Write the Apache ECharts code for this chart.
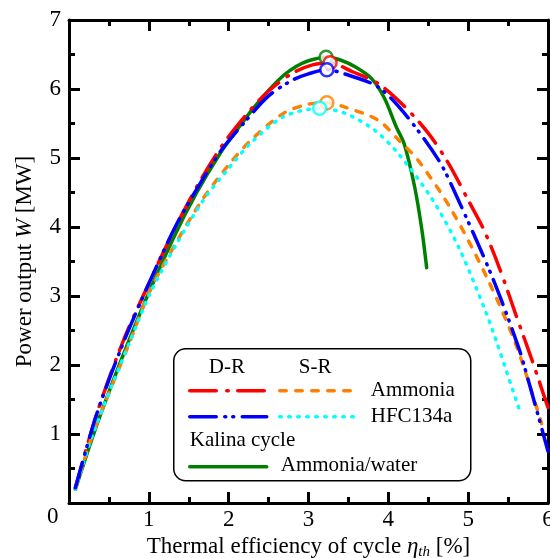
<!DOCTYPE html>
<html lang="en">
<head>
  <meta charset="UTF-8">
  <title>Power output vs thermal efficiency</title>
  <script src="https://cdn.jsdelivr.net/npm/echarts@6/dist/echarts.min.js"></script>
  <style>
    html, body { margin: 0; padding: 0; background: #fff; }
    #main { width: 550px; height: 558px; }
  </style>
</head>
<body>
  <div id="main"></div>
  <script>
    // thermal efficiency [%] / power output [MW]
    var drAmmoniaX = [0.08, 0.35, 0.68, 1.0, 1.3, 1.6, 1.9, 2.2, 2.5, 2.8, 3.05, 3.27, 3.55, 3.87, 4.2, 4.5, 4.75, 5.0, 5.2, 5.4, 5.6, 5.8, 6.0];
    var drAmmoniaY = [0.22, 1.3, 2.35, 3.18, 3.92, 4.58, 5.15, 5.6, 5.97, 6.23, 6.35, 6.38, 6.25, 6.08, 5.75, 5.36, 4.93, 4.39, 3.95, 3.38, 2.72, 2.07, 1.38];

    var drHfcX = [0.08, 0.35, 0.68, 1.0, 1.33, 1.6, 1.9, 2.2, 2.5, 2.8, 3.0, 3.23, 3.45, 3.87, 4.2, 4.63, 4.83, 5.3, 5.63, 5.76, 6.0];
    var drHfcY = [0.22, 1.3, 2.32, 3.18, 4.0, 4.55, 5.1, 5.52, 5.9, 6.13, 6.22, 6.28, 6.22, 6.03, 5.65, 4.97, 4.51, 3.28, 2.26, 1.75, 0.75];

    var srAmmoniaX = [0.08, 0.3, 0.77, 1.02, 1.36, 1.69, 2.0, 2.28, 2.69, 3.0, 3.23, 3.45, 3.87, 4.13, 4.37, 4.79, 5.25, 5.61, 5.92];
    var srAmmoniaY = [0.2, 1.0, 2.36, 3.09, 3.81, 4.43, 4.9, 5.26, 5.65, 5.78, 5.8, 5.74, 5.55, 5.26, 4.97, 4.25, 3.23, 2.26, 1.15];

    var srHfcX = [0.08, 0.3, 0.77, 1.02, 1.36, 1.69, 2.0, 2.28, 2.69, 3.14, 3.45, 3.82, 4.12, 4.54, 4.88, 5.21, 5.36, 5.65];
    var srHfcY = [0.2, 1.0, 2.36, 3.05, 3.78, 4.4, 4.85, 5.22, 5.6, 5.72, 5.65, 5.41, 5.07, 4.42, 3.71, 2.8, 2.32, 1.32];

    var kalinaX = [0.08, 0.4, 0.89, 1.3, 1.6, 1.9, 2.1, 2.28, 2.5, 2.69, 2.85, 3.0, 3.22, 3.4, 3.6, 3.79, 3.95, 4.1, 4.2, 4.33, 4.42, 4.48];
    var kalinaY = [0.2, 1.3, 2.75, 3.82, 4.5, 5.08, 5.4, 5.68, 5.98, 6.2, 6.33, 6.41, 6.46, 6.42, 6.31, 6.15, 5.87, 5.45, 5.2, 4.58, 3.96, 3.41];

    // maximum points (open circles): kalina, D-R ammonia, D-R HFC, S-R ammonia, S-R HFC
    var peakX = [3.22, 3.27, 3.23, 3.23, 3.14];
    var peakY = [6.46, 6.38, 6.28, 5.80, 5.72];

    var xTicks = [0, 1, 2, 3, 4, 5, 6];
    var yTicks = [0, 1, 2, 3, 4, 5, 6, 7];

    var RED = '#ff0000', BLUE = '#0000ff', GREEN = '#008000', ORANGE = '#ff8000', CYAN = '#00ffff';
    var peakColors = [GREEN, RED, BLUE, ORANGE, CYAN];
    var FONT = '"Liberation Serif", "DejaVu Serif", serif';

    // dash patterns (round caps)
    var dashDot = [26.5, 10.5, 1.5, 9.5];
    var dashDotDot = [26.5, 8.5, 1, 7, 1, 8.5];
    var dashed = [6.5, 9.5];
    var dotted = [1.5, 7.5];

    function pairs(xs, ys) {
      return xs.map(function (x, i) { return [x, ys[i]]; });
    }

    function curve(name, xs, ys, color, dash) {
      return {
        name: name,
        type: 'line',
        data: pairs(xs, ys),
        smooth: 0.3,
        symbol: 'none',
        lineStyle: { color: color, width: 3.5, type: dash, cap: 'round' }
      };
    }

    function axisBase(min, max, pos, showLabel) {
      return {
        type: 'value',
        position: pos,
        min: min,
        max: max,
        interval: 1,
        splitLine: { show: false },
        axisLine: { show: true, onZero: false, lineStyle: { color: '#000', width: 3 } },
        axisTick: { show: true, inside: true, length: 11, lineStyle: { color: '#000', width: 3 } },
        minorTick: { show: true, splitNumber: 2, length: 6, lineStyle: { color: '#000', width: 3 } },
        axisLabel: {
          show: showLabel,
          color: '#000',
          fontFamily: FONT,
          fontSize: 23,
          formatter: function (v) { return v === 0 ? '' : String(v); }
        }
      };
    }

    var chart = echarts.init(document.getElementById('main'));

    var xBottom = axisBase(xTicks[0], xTicks[xTicks.length - 1], 'bottom', true);
    xBottom.axisLabel.margin = 5;
    xBottom.name = 'Thermal efficiency of cycle {i|η}{s|th} [%]';
    xBottom.nameLocation = 'middle';
    xBottom.nameGap = 30;
    xBottom.nameTextStyle = {
      color: '#000', fontFamily: FONT, fontSize: 23,
      rich: {
        i: { fontFamily: FONT, fontSize: 23, fontStyle: 'italic', color: '#000' },
        s: { fontFamily: FONT, fontSize: 15, fontStyle: 'italic', color: '#000', padding: [10, 0, 0, 0] }
      }
    };
    var xTop = axisBase(xTicks[0], xTicks[xTicks.length - 1], 'top', false);

    var yLeft = axisBase(yTicks[0], yTicks[yTicks.length - 1], 'left', true);
    yLeft.axisLabel.margin = 8;
    yLeft.name = 'Power output {i|W} [MW]';
    yLeft.nameLocation = 'middle';
    yLeft.nameGap = 33;
    yLeft.nameTextStyle = {
      color: '#000', fontFamily: FONT, fontSize: 23,
      rich: { i: { fontFamily: FONT, fontSize: 23, fontStyle: 'italic', color: '#000' } }
    };
    var yRight = axisBase(yTicks[0], yTicks[yTicks.length - 1], 'right', false);

    var option = {
      backgroundColor: '#fff',
      animation: false,
      grid: { left: 69, top: 20, right: 2, bottom: 55, containLabel: false, outerBoundsMode: 'none' },
      xAxis: [xBottom, xTop],
      yAxis: [yLeft, yRight],
      series: [
        curve('Kalina Ammonia/water', kalinaX, kalinaY, GREEN, 'solid'),
        curve('D-R Ammonia', drAmmoniaX, drAmmoniaY, RED, dashDot),
        curve('S-R Ammonia', srAmmoniaX, srAmmoniaY, ORANGE, dashed),
        curve('S-R HFC134a', srHfcX, srHfcY, CYAN, dotted),
        curve('D-R HFC134a', drHfcX, drHfcY, BLUE, dashDotDot),
        {
          type: 'scatter',
          symbol: 'circle',
          symbolSize: 13,
          z: 5,
          data: peakX.map(function (x, i) {
            return {
              value: [x, peakY[i]],
              itemStyle: { color: '#fff', borderColor: peakColors[i], borderWidth: 2.5 }
            };
          })
        }
      ],
      graphic: [
        // shared origin label
        { type: 'text', left: 47, top: 505, style: { text: '0', font: '23px ' + FONT, fill: '#000' } },
        // legend box
        {
          type: 'group', left: 173, top: 348,
          children: [
            { type: 'rect', shape: { x: 0, y: 0, width: 297, height: 132, r: 12 }, style: { fill: '#fff', stroke: '#000', lineWidth: 1.5 } },
            { type: 'text', x: 35, y: 8, style: { text: 'D-R', font: '21px ' + FONT, fill: '#000' } },
            { type: 'text', x: 125, y: 8, style: { text: 'S-R', font: '21px ' + FONT, fill: '#000' } },
            { type: 'line', shape: { x1: 16, y1: 42, x2: 93, y2: 42 }, style: { stroke: RED, lineWidth: 3.5, lineDash: dashDot, lineCap: 'round' } },
            { type: 'line', shape: { x1: 106, y1: 42, x2: 183, y2: 42 }, style: { stroke: ORANGE, lineWidth: 3.5, lineDash: dashed, lineCap: 'round' } },
            { type: 'text', x: 197, y: 31, style: { text: 'Ammonia', font: '21px ' + FONT, fill: '#000' } },
            { type: 'line', shape: { x1: 16, y1: 68, x2: 93, y2: 68 }, style: { stroke: BLUE, lineWidth: 3.5, lineDash: dashDotDot, lineCap: 'round' } },
            { type: 'line', shape: { x1: 106, y1: 68, x2: 183, y2: 68 }, style: { stroke: CYAN, lineWidth: 3.5, lineDash: dotted, lineCap: 'round' } },
            { type: 'text', x: 197, y: 57, style: { text: 'HFC134a', font: '21px ' + FONT, fill: '#000' } },
            { type: 'text', x: 16, y: 81, style: { text: 'Kalina cycle', font: '21px ' + FONT, fill: '#000' } },
            { type: 'line', shape: { x1: 16, y1: 118, x2: 93, y2: 118 }, style: { stroke: GREEN, lineWidth: 3.5, lineCap: 'round' } },
            { type: 'text', x: 107, y: 106, style: { text: 'Ammonia/water', font: '21px ' + FONT, fill: '#000' } }
          ]
        }
      ]
    };

    chart.setOption(option);
  </script>
</body>
</html>
